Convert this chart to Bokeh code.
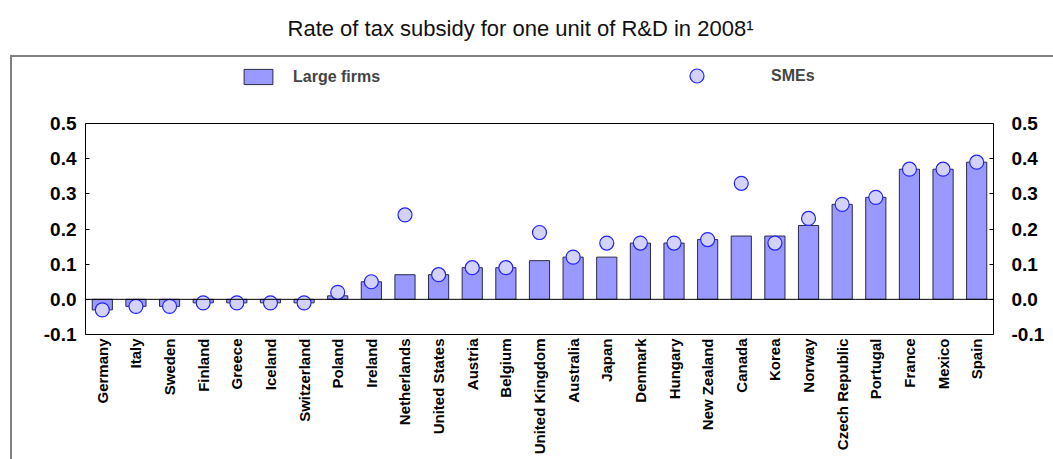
import math
from bokeh.plotting import figure
from bokeh.models import (ColumnDataSource, FactorRange, Range1d, LinearAxis, FixedTicker,
                          PrintfTickFormatter, Span, Label, Legend, LegendItem)
from bokeh.embed import file_html
from bokeh.resources import INLINE

countries = ["Germany", "Italy", "Sweden", "Finland", "Greece", "Iceland", "Switzerland",
             "Poland", "Ireland", "Netherlands", "United States", "Austria", "Belgium",
             "United Kingdom", "Australia", "Japan", "Denmark", "Hungary", "New Zealand",
             "Canada", "Korea", "Norway", "Czech Republic", "Portugal", "France", "Mexico", "Spain"]
large_firms = [-0.03, -0.02, -0.02, -0.01, -0.01, -0.01, -0.01,
               0.01, 0.05, 0.07, 0.07, 0.09, 0.09,
               0.11, 0.12, 0.12, 0.16, 0.16, 0.17,
               0.18, 0.18, 0.21, 0.27, 0.29, 0.37, 0.37, 0.39]
smes = [-0.03, -0.02, -0.02, -0.01, -0.01, -0.01, -0.01,
        0.02, 0.05, 0.24, 0.07, 0.09, 0.09,
        0.19, 0.12, 0.16, 0.16, 0.16, 0.17,
        0.33, 0.16, 0.23, 0.27, 0.29, 0.37, 0.37, 0.39]
y_ticks = [-0.1, 0.0, 0.1, 0.2, 0.3, 0.4, 0.5]
y_min, y_max = -0.1, 0.5
title_text = "Rate of tax subsidy for one unit of R&D in 2008\u00b9"

FONT = "Liberation Sans"
W, H = 1053, 459
LEFT, RIGHT, BOTTOM = 85, 60, 125          # border sizes (px)
PLOT_TOP = 123                             # pixel row of the 0.5 line
frame_h = H - BOTTOM                       # frame spans from canvas top to bottom border
px_per_unit = (frame_h - PLOT_TOP) / (y_max - y_min)
y_top = y_max + PLOT_TOP / px_per_unit     # range extends upward to hold title & legend

src = ColumnDataSource(dict(country=countries, large=large_firms, sme=smes))

p = figure(width=W, height=H, x_range=FactorRange(*countries, range_padding=0),
           y_range=Range1d(y_min, y_top), output_backend="svg", toolbar_location=None,
           title=None, min_border_left=LEFT, min_border_right=RIGHT,
           min_border_top=0, min_border_bottom=BOTTOM)
p.background_fill_alpha = 0
p.border_fill_alpha = 0
p.outline_line_color = None
p.xgrid.visible = False
p.ygrid.visible = False
p.styles = {
    "background-color": "white",
    "background-image": "linear-gradient(#808080, #808080), linear-gradient(#808080, #808080)",
    "background-size": "2px 100%, 100% 2px",
    "background-position": "10px 55px, 10px 55px",
    "background-repeat": "no-repeat",
}

bars = p.vbar(x="country", top="large", bottom=0, width=0.6, source=src,
              fill_color="#9999FF", line_color="#2a2a48", line_width=1)
p.add_layout(Span(location=0, dimension="width", line_color="black", line_width=1))
p.add_layout(Span(location=y_max, dimension="width", line_color="black", line_width=1))
dots = p.scatter(x="country", y="sme", source=src, size=14, marker="circle",
                 fill_color="#D2D2FA", line_color="#2222FF", line_width=1.2)

# axes
ticker = FixedTicker(ticks=y_ticks)
fmt = PrintfTickFormatter(format="%.1f")
yl = p.yaxis[0]
yl.ticker = ticker
yl.formatter = fmt
yr = LinearAxis(ticker=ticker, formatter=fmt)
p.add_layout(yr, "right")
for ax in (yl, yr):
    ax.bounds = (y_min, y_max)
    ax.major_tick_in = 4
    ax.major_tick_out = 0
    ax.minor_tick_in = 0
    ax.minor_tick_out = 0
    ax.axis_line_color = "black"
    ax.major_tick_line_color = "black"
    ax.major_label_text_font = FONT
    ax.major_label_text_font_style = "bold"
    ax.major_label_text_font_size = "19px"
    ax.major_label_text_color = "black"
yl.major_label_standoff = 9
yr.major_label_standoff = 18

xa = p.xaxis[0]
xa.major_tick_in = 0
xa.major_tick_out = 0
xa.axis_line_color = "black"
xa.major_label_orientation = math.pi / 2
xa.major_label_text_font = FONT
xa.major_label_text_font_style = "bold"
xa.major_label_text_font_size = "15px"
xa.major_label_text_color = "black"
xa.major_label_standoff = 4

# title (inside the extended frame, above the plot box)
p.add_layout(Label(x=435, y=frame_h - 28, x_units="screen", y_units="screen", text=title_text,
                   text_align="center", text_baseline="middle", text_font=FONT,
                   text_font_size="22px", text_color="#111111"))

# legends
leg1 = Legend(items=[LegendItem(label="Large firms", renderers=[bars])],
              location=(155, frame_h - 86), glyph_width=36, glyph_height=19, padding=0, margin=0,
              label_standoff=17, label_text_font=FONT, label_text_font_style="bold",
              label_text_font_size="16px", background_fill_alpha=0, border_line_alpha=0)
leg2 = Legend(items=[LegendItem(label="SMEs", renderers=[dots])],
              location=(594, frame_h - 93), glyph_width=35, glyph_height=35, padding=0, margin=0,
              label_standoff=57, label_text_font=FONT, label_text_font_style="bold",
              label_text_font_size="16px", background_fill_alpha=0, border_line_alpha=0)
p.add_layout(leg1, "center")
p.add_layout(leg2, "center")

open("out.html", "w").write(file_html(p, INLINE))
